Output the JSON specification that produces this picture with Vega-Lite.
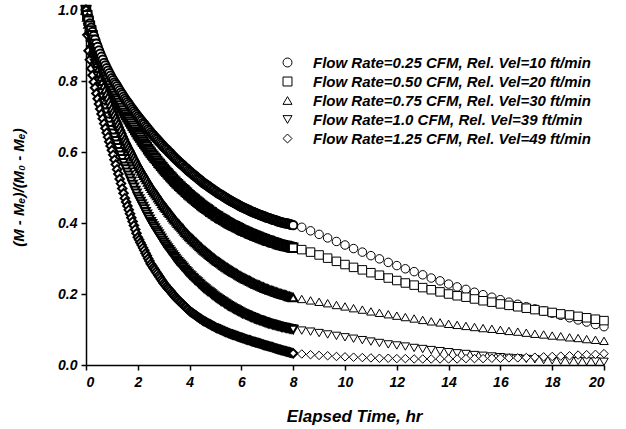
{
"$schema": "https://vega.github.io/schema/vega-lite/v6.json",
"width": 518, "height": 355,
"autosize": "none",
"padding": {"left": 86, "top": 10, "right": 22, "bottom": 64},
"background": "white",
"config": {"view": {"stroke": null}, "font": "Liberation Sans"},
"data": {"values": [
{"t":0,"a":1,"b":1,"c":1,"d":1,"e":1},
{"t":0.05,"a":0.988,"b":0.985,"c":0.980,"d":0.975,"e":0.930},
{"t":0.10,"a":0.975,"b":0.970,"c":0.960,"d":0.950,"e":0.885},
{"t":0.15,"a":0.962,"b":0.956,"c":0.943,"d":0.929,"e":0.860},
{"t":0.20,"a":0.950,"b":0.942,"c":0.925,"d":0.907,"e":0.835},
{"t":0.25,"a":0.938,"b":0.929,"c":0.909,"d":0.888,"e":0.816},
{"t":0.30,"a":0.927,"b":0.916,"c":0.893,"d":0.868,"e":0.797},
{"t":0.35,"a":0.916,"b":0.904,"c":0.878,"d":0.850,"e":0.781},
{"t":0.40,"a":0.905,"b":0.892,"c":0.863,"d":0.832,"e":0.765},
{"t":0.45,"a":0.896,"b":0.881,"c":0.850,"d":0.816,"e":0.750},
{"t":0.50,"a":0.886,"b":0.870,"c":0.836,"d":0.799,"e":0.735},
{"t":0.55,"a":0.877,"b":0.860,"c":0.824,"d":0.784,"e":0.721},
{"t":0.60,"a":0.868,"b":0.849,"c":0.811,"d":0.768,"e":0.707},
{"t":0.65,"a":0.860,"b":0.840,"c":0.799,"d":0.754,"e":0.694},
{"t":0.70,"a":0.851,"b":0.830,"c":0.787,"d":0.739,"e":0.680},
{"t":0.75,"a":0.844,"b":0.821,"c":0.776,"d":0.726,"e":0.667},
{"t":0.80,"a":0.836,"b":0.812,"c":0.765,"d":0.712,"e":0.654},
{"t":0.85,"a":0.829,"b":0.804,"c":0.755,"d":0.700,"e":0.642},
{"t":0.90,"a":0.822,"b":0.795,"c":0.744,"d":0.687,"e":0.629},
{"t":0.95,"a":0.815,"b":0.787,"c":0.734,"d":0.675,"e":0.617},
{"t":1.00,"a":0.808,"b":0.779,"c":0.724,"d":0.663,"e":0.605},
{"t":1.05,"a":0.802,"b":0.772,"c":0.715,"d":0.653,"e":0.592},
{"t":1.10,"a":0.796,"b":0.765,"c":0.707,"d":0.642,"e":0.578},
{"t":1.15,"a":0.791,"b":0.758,"c":0.698,"d":0.632,"e":0.565},
{"t":1.20,"a":0.785,"b":0.751,"c":0.690,"d":0.622,"e":0.551},
{"t":1.25,"a":0.779,"b":0.745,"c":0.681,"d":0.612,"e":0.538},
{"t":1.30,"a":0.773,"b":0.738,"c":0.672,"d":0.601,"e":0.524},
{"t":1.35,"a":0.767,"b":0.731,"c":0.664,"d":0.591,"e":0.511},
{"t":1.40,"a":0.762,"b":0.724,"c":0.655,"d":0.581,"e":0.497},
{"t":1.45,"a":0.756,"b":0.717,"c":0.647,"d":0.570,"e":0.484},
{"t":1.50,"a":0.750,"b":0.710,"c":0.638,"d":0.560,"e":0.470},
{"t":1.55,"a":0.745,"b":0.704,"c":0.631,"d":0.552,"e":0.459},
{"t":1.60,"a":0.740,"b":0.698,"c":0.623,"d":0.543,"e":0.448},
{"t":1.65,"a":0.735,"b":0.692,"c":0.616,"d":0.535,"e":0.437},
{"t":1.70,"a":0.730,"b":0.686,"c":0.609,"d":0.526,"e":0.426},
{"t":1.75,"a":0.725,"b":0.680,"c":0.602,"d":0.518,"e":0.415},
{"t":1.80,"a":0.720,"b":0.674,"c":0.594,"d":0.509,"e":0.404},
{"t":1.85,"a":0.715,"b":0.668,"c":0.587,"d":0.501,"e":0.393},
{"t":1.90,"a":0.710,"b":0.662,"c":0.580,"d":0.492,"e":0.382},
{"t":1.95,"a":0.705,"b":0.656,"c":0.572,"d":0.484,"e":0.371},
{"t":2.00,"a":0.700,"b":0.650,"c":0.565,"d":0.475,"e":0.360},
{"t":2.05,"a":0.696,"b":0.645,"c":0.559,"d":0.468,"e":0.353},
{"t":2.10,"a":0.691,"b":0.640,"c":0.553,"d":0.461,"e":0.345},
{"t":2.15,"a":0.687,"b":0.634,"c":0.546,"d":0.454,"e":0.338},
{"t":2.20,"a":0.682,"b":0.629,"c":0.540,"d":0.447,"e":0.330},
{"t":2.25,"a":0.678,"b":0.624,"c":0.534,"d":0.440,"e":0.323},
{"t":2.30,"a":0.673,"b":0.619,"c":0.528,"d":0.432,"e":0.315},
{"t":2.35,"a":0.669,"b":0.614,"c":0.522,"d":0.425,"e":0.308},
{"t":2.40,"a":0.664,"b":0.608,"c":0.515,"d":0.418,"e":0.300},
{"t":2.45,"a":0.660,"b":0.603,"c":0.509,"d":0.411,"e":0.293},
{"t":2.50,"a":0.655,"b":0.598,"c":0.503,"d":0.404,"e":0.285},
{"t":2.55,"a":0.651,"b":0.593,"c":0.498,"d":0.398,"e":0.280},
{"t":2.60,"a":0.647,"b":0.589,"c":0.492,"d":0.392,"e":0.274},
{"t":2.65,"a":0.643,"b":0.584,"c":0.487,"d":0.386,"e":0.269},
{"t":2.70,"a":0.639,"b":0.580,"c":0.482,"d":0.380,"e":0.263},
{"t":2.75,"a":0.635,"b":0.575,"c":0.477,"d":0.375,"e":0.258},
{"t":2.80,"a":0.631,"b":0.570,"c":0.471,"d":0.369,"e":0.252},
{"t":2.85,"a":0.627,"b":0.566,"c":0.466,"d":0.363,"e":0.247},
{"t":2.90,"a":0.623,"b":0.561,"c":0.461,"d":0.357,"e":0.241},
{"t":2.95,"a":0.619,"b":0.557,"c":0.455,"d":0.351,"e":0.236},
{"t":3.00,"a":0.615,"b":0.552,"c":0.450,"d":0.345,"e":0.230},
{"t":3.05,"a":0.611,"b":0.548,"c":0.445,"d":0.340,"e":0.226},
{"t":3.10,"a":0.608,"b":0.544,"c":0.441,"d":0.335,"e":0.221},
{"t":3.15,"a":0.604,"b":0.540,"c":0.436,"d":0.330,"e":0.217},
{"t":3.20,"a":0.600,"b":0.536,"c":0.431,"d":0.325,"e":0.213},
{"t":3.25,"a":0.597,"b":0.532,"c":0.427,"d":0.320,"e":0.209},
{"t":3.30,"a":0.593,"b":0.528,"c":0.422,"d":0.315,"e":0.204},
{"t":3.35,"a":0.589,"b":0.524,"c":0.417,"d":0.310,"e":0.200},
{"t":3.40,"a":0.585,"b":0.520,"c":0.412,"d":0.305,"e":0.196},
{"t":3.45,"a":0.582,"b":0.516,"c":0.408,"d":0.300,"e":0.191},
{"t":3.50,"a":0.578,"b":0.512,"c":0.403,"d":0.295,"e":0.187},
{"t":3.55,"a":0.575,"b":0.509,"c":0.399,"d":0.291,"e":0.184},
{"t":3.60,"a":0.571,"b":0.505,"c":0.395,"d":0.287,"e":0.180},
{"t":3.65,"a":0.568,"b":0.502,"c":0.391,"d":0.283,"e":0.177},
{"t":3.70,"a":0.565,"b":0.498,"c":0.387,"d":0.279,"e":0.173},
{"t":3.75,"a":0.562,"b":0.495,"c":0.383,"d":0.275,"e":0.170},
{"t":3.80,"a":0.558,"b":0.492,"c":0.378,"d":0.270,"e":0.166},
{"t":3.85,"a":0.555,"b":0.488,"c":0.374,"d":0.266,"e":0.163},
{"t":3.90,"a":0.552,"b":0.485,"c":0.370,"d":0.262,"e":0.159},
{"t":3.95,"a":0.548,"b":0.481,"c":0.366,"d":0.258,"e":0.156},
{"t":4.00,"a":0.545,"b":0.478,"c":0.362,"d":0.254,"e":0.152},
{"t":4.05,"a":0.542,"b":0.475,"c":0.359,"d":0.251,"e":0.149},
{"t":4.10,"a":0.539,"b":0.472,"c":0.355,"d":0.247,"e":0.147},
{"t":4.15,"a":0.536,"b":0.469,"c":0.352,"d":0.244,"e":0.144},
{"t":4.20,"a":0.533,"b":0.466,"c":0.348,"d":0.240,"e":0.142},
{"t":4.25,"a":0.530,"b":0.463,"c":0.345,"d":0.237,"e":0.139},
{"t":4.30,"a":0.527,"b":0.460,"c":0.341,"d":0.234,"e":0.136},
{"t":4.35,"a":0.524,"b":0.457,"c":0.338,"d":0.230,"e":0.134},
{"t":4.40,"a":0.521,"b":0.454,"c":0.334,"d":0.227,"e":0.131},
{"t":4.45,"a":0.518,"b":0.451,"c":0.331,"d":0.223,"e":0.129},
{"t":4.50,"a":0.515,"b":0.448,"c":0.327,"d":0.220,"e":0.126},
{"t":4.55,"a":0.512,"b":0.445,"c":0.324,"d":0.217,"e":0.124},
{"t":4.60,"a":0.510,"b":0.443,"c":0.321,"d":0.214,"e":0.122},
{"t":4.65,"a":0.507,"b":0.440,"c":0.318,"d":0.211,"e":0.120},
{"t":4.70,"a":0.505,"b":0.438,"c":0.315,"d":0.208,"e":0.118},
{"t":4.75,"a":0.502,"b":0.435,"c":0.312,"d":0.206,"e":0.116},
{"t":4.80,"a":0.499,"b":0.432,"c":0.309,"d":0.203,"e":0.114},
{"t":4.85,"a":0.497,"b":0.430,"c":0.306,"d":0.200,"e":0.112},
{"t":4.90,"a":0.494,"b":0.427,"c":0.303,"d":0.197,"e":0.110},
{"t":4.95,"a":0.492,"b":0.425,"c":0.300,"d":0.194,"e":0.108},
{"t":5.00,"a":0.489,"b":0.422,"c":0.297,"d":0.191,"e":0.106},
{"t":5.05,"a":0.487,"b":0.420,"c":0.294,"d":0.189,"e":0.104},
{"t":5.10,"a":0.484,"b":0.418,"c":0.292,"d":0.186,"e":0.103},
{"t":5.15,"a":0.482,"b":0.415,"c":0.289,"d":0.184,"e":0.101},
{"t":5.20,"a":0.480,"b":0.413,"c":0.287,"d":0.181,"e":0.100},
{"t":5.25,"a":0.478,"b":0.411,"c":0.284,"d":0.179,"e":0.098},
{"t":5.30,"a":0.475,"b":0.409,"c":0.281,"d":0.177,"e":0.096},
{"t":5.35,"a":0.473,"b":0.407,"c":0.279,"d":0.174,"e":0.095},
{"t":5.40,"a":0.471,"b":0.404,"c":0.276,"d":0.172,"e":0.093},
{"t":5.45,"a":0.468,"b":0.402,"c":0.274,"d":0.169,"e":0.092},
{"t":5.50,"a":0.466,"b":0.400,"c":0.271,"d":0.167,"e":0.090},
{"t":5.55,"a":0.464,"b":0.398,"c":0.269,"d":0.165,"e":0.089},
{"t":5.60,"a":0.462,"b":0.396,"c":0.267,"d":0.163,"e":0.087},
{"t":5.65,"a":0.460,"b":0.394,"c":0.264,"d":0.161,"e":0.086},
{"t":5.70,"a":0.458,"b":0.392,"c":0.262,"d":0.159,"e":0.085},
{"t":5.75,"a":0.456,"b":0.391,"c":0.260,"d":0.157,"e":0.084},
{"t":5.80,"a":0.454,"b":0.389,"c":0.258,"d":0.155,"e":0.082},
{"t":5.85,"a":0.452,"b":0.387,"c":0.256,"d":0.153,"e":0.081},
{"t":5.90,"a":0.450,"b":0.385,"c":0.253,"d":0.151,"e":0.080},
{"t":5.95,"a":0.448,"b":0.383,"c":0.251,"d":0.149,"e":0.078},
{"t":6.00,"a":0.446,"b":0.381,"c":0.249,"d":0.147,"e":0.077},
{"t":6.05,"a":0.444,"b":0.379,"c":0.247,"d":0.145,"e":0.076},
{"t":6.10,"a":0.443,"b":0.378,"c":0.245,"d":0.144,"e":0.075},
{"t":6.15,"a":0.441,"b":0.376,"c":0.243,"d":0.142,"e":0.073},
{"t":6.20,"a":0.439,"b":0.375,"c":0.241,"d":0.141,"e":0.072},
{"t":6.25,"a":0.438,"b":0.373,"c":0.240,"d":0.139,"e":0.071},
{"t":6.30,"a":0.436,"b":0.371,"c":0.238,"d":0.137,"e":0.070},
{"t":6.35,"a":0.434,"b":0.370,"c":0.236,"d":0.136,"e":0.069},
{"t":6.40,"a":0.432,"b":0.368,"c":0.234,"d":0.134,"e":0.067},
{"t":6.45,"a":0.431,"b":0.367,"c":0.232,"d":0.133,"e":0.066},
{"t":6.50,"a":0.429,"b":0.365,"c":0.230,"d":0.131,"e":0.065},
{"t":6.55,"a":0.428,"b":0.364,"c":0.228,"d":0.130,"e":0.064},
{"t":6.60,"a":0.426,"b":0.362,"c":0.227,"d":0.128,"e":0.063},
{"t":6.65,"a":0.425,"b":0.361,"c":0.225,"d":0.127,"e":0.062},
{"t":6.70,"a":0.423,"b":0.359,"c":0.224,"d":0.126,"e":0.061},
{"t":6.75,"a":0.422,"b":0.358,"c":0.222,"d":0.125,"e":0.060},
{"t":6.80,"a":0.421,"b":0.357,"c":0.220,"d":0.123,"e":0.058},
{"t":6.85,"a":0.419,"b":0.355,"c":0.219,"d":0.122,"e":0.057},
{"t":6.90,"a":0.418,"b":0.354,"c":0.217,"d":0.121,"e":0.056},
{"t":6.95,"a":0.416,"b":0.352,"c":0.216,"d":0.119,"e":0.055},
{"t":7.00,"a":0.415,"b":0.351,"c":0.214,"d":0.118,"e":0.054},
{"t":7.05,"a":0.414,"b":0.350,"c":0.213,"d":0.117,"e":0.053},
{"t":7.10,"a":0.413,"b":0.349,"c":0.211,"d":0.116,"e":0.052},
{"t":7.15,"a":0.411,"b":0.347,"c":0.210,"d":0.115,"e":0.051},
{"t":7.20,"a":0.410,"b":0.346,"c":0.209,"d":0.114,"e":0.050},
{"t":7.25,"a":0.409,"b":0.345,"c":0.208,"d":0.113,"e":0.049},
{"t":7.30,"a":0.408,"b":0.344,"c":0.206,"d":0.112,"e":0.047},
{"t":7.35,"a":0.407,"b":0.343,"c":0.205,"d":0.111,"e":0.046},
{"t":7.40,"a":0.405,"b":0.341,"c":0.204,"d":0.110,"e":0.045},
{"t":7.45,"a":0.404,"b":0.340,"c":0.202,"d":0.109,"e":0.044},
{"t":7.50,"a":0.403,"b":0.339,"c":0.201,"d":0.108,"e":0.043},
{"t":7.55,"a":0.402,"b":0.338,"c":0.200,"d":0.107,"e":0.042},
{"t":7.60,"a":0.401,"b":0.337,"c":0.199,"d":0.106,"e":0.041},
{"t":7.65,"a":0.400,"b":0.336,"c":0.198,"d":0.106,"e":0.040},
{"t":7.70,"a":0.399,"b":0.335,"c":0.197,"d":0.105,"e":0.039},
{"t":7.75,"a":0.399,"b":0.335,"c":0.196,"d":0.104,"e":0.038},
{"t":7.80,"a":0.398,"b":0.334,"c":0.194,"d":0.103,"e":0.037},
{"t":7.85,"a":0.397,"b":0.333,"c":0.193,"d":0.102,"e":0.036},
{"t":7.90,"a":0.396,"b":0.332,"c":0.192,"d":0.102,"e":0.035},
{"t":7.95,"a":0.395,"b":0.331,"c":0.191,"d":0.101,"e":0.034},
{"t":8.00,"a":0.394,"b":0.330,"c":0.190,"d":0.100,"e":0.033},
{"t":8.33,"a":0.388,"b":0.325,"c":0.186,"d":0.097,"e":0.031},
{"t":8.67,"a":0.378,"b":0.318,"c":0.182,"d":0.094,"e":0.029},
{"t":9.00,"a":0.368,"b":0.310,"c":0.178,"d":0.090,"e":0.027},
{"t":9.33,"a":0.358,"b":0.301,"c":0.174,"d":0.086,"e":0.026},
{"t":9.67,"a":0.348,"b":0.292,"c":0.169,"d":0.082,"e":0.024},
{"t":10.00,"a":0.338,"b":0.283,"c":0.165,"d":0.078,"e":0.023},
{"t":10.33,"a":0.328,"b":0.275,"c":0.160,"d":0.074,"e":0.022},
{"t":10.67,"a":0.318,"b":0.268,"c":0.156,"d":0.070,"e":0.021},
{"t":11.00,"a":0.308,"b":0.260,"c":0.151,"d":0.066,"e":0.020},
{"t":11.33,"a":0.299,"b":0.253,"c":0.147,"d":0.062,"e":0.019},
{"t":11.67,"a":0.289,"b":0.245,"c":0.143,"d":0.058,"e":0.019},
{"t":12.00,"a":0.280,"b":0.238,"c":0.139,"d":0.055,"e":0.018},
{"t":12.33,"a":0.271,"b":0.231,"c":0.135,"d":0.052,"e":0.018},
{"t":12.67,"a":0.263,"b":0.225,"c":0.131,"d":0.048,"e":0.017},
{"t":13.00,"a":0.254,"b":0.218,"c":0.127,"d":0.045,"e":0.017},
{"t":13.33,"a":0.245,"b":0.212,"c":0.123,"d":0.042,"e":0.017},
{"t":13.67,"a":0.237,"b":0.206,"c":0.120,"d":0.039,"e":0.017},
{"t":14.00,"a":0.228,"b":0.200,"c":0.116,"d":0.036,"e":0.017},
{"t":14.33,"a":0.220,"b":0.195,"c":0.113,"d":0.033,"e":0.017},
{"t":14.67,"a":0.213,"b":0.191,"c":0.110,"d":0.031,"e":0.018},
{"t":15.00,"a":0.205,"b":0.186,"c":0.107,"d":0.028,"e":0.018},
{"t":15.33,"a":0.198,"b":0.181,"c":0.104,"d":0.026,"e":0.018},
{"t":15.67,"a":0.191,"b":0.177,"c":0.102,"d":0.024,"e":0.019},
{"t":16.00,"a":0.184,"b":0.172,"c":0.099,"d":0.022,"e":0.019},
{"t":16.33,"a":0.177,"b":0.168,"c":0.096,"d":0.020,"e":0.020},
{"t":16.67,"a":0.171,"b":0.164,"c":0.094,"d":0.019,"e":0.020},
{"t":17.00,"a":0.164,"b":0.160,"c":0.091,"d":0.017,"e":0.021},
{"t":17.33,"a":0.158,"b":0.156,"c":0.088,"d":0.016,"e":0.022},
{"t":17.67,"a":0.152,"b":0.152,"c":0.086,"d":0.014,"e":0.023},
{"t":18.00,"a":0.146,"b":0.148,"c":0.083,"d":0.013,"e":0.024},
{"t":18.33,"a":0.140,"b":0.144,"c":0.081,"d":0.012,"e":0.025},
{"t":18.67,"a":0.133,"b":0.141,"c":0.078,"d":0.012,"e":0.026},
{"t":19.00,"a":0.127,"b":0.137,"c":0.076,"d":0.011,"e":0.028},
{"t":19.33,"a":0.121,"b":0.133,"c":0.073,"d":0.010,"e":0.029},
{"t":19.67,"a":0.114,"b":0.129,"c":0.071,"d":0.010,"e":0.030},
{"t":20.00,"a":0.108,"b":0.125,"c":0.068,"d":0.009,"e":0.032}
]},
"transform": [{"fold": ["a","b","c","d","e"], "as": ["series","v"]}],
"mark": {"type": "point", "filled": false, "fill": "white", "opacity": 1, "size": 72},
"encoding": {
  "x": {"field": "t", "type": "quantitative",
        "scale": {"domain": [0, 20], "nice": false, "zero": false},
        "axis": {"values": [0,2,4,6,8,10,12,14,16,18,20], "format": "d", "title": "Elapsed Time, hr",
                 "grid": false, "domainColor": "black", "domainWidth": 1.5, "tickColor": "black", "tickWidth": 1.5, "tickSize": 5,
                 "labelFont": "Liberation Sans", "labelFontSize": 14, "labelFontWeight": "bold", "labelFontStyle": "italic", "labelColor": "black", "labelPadding": 5,
                 "titleFont": "Liberation Sans", "titleFontSize": 17, "titleFontWeight": "bold", "titleFontStyle": "italic", "titleColor": "black",
                 "titleX": 268, "titleY": 56, "titleBaseline": "alphabetic", "titleAlign": "center"}},
  "y": {"field": "v", "type": "quantitative",
        "scale": {"domain": [0, 1], "nice": false},
        "axis": {"values": [0,0.2,0.4,0.6,0.8,1.0], "format": ".1f", "title": "(M - Mₑ)/(M₀ - Mₑ)",
                 "grid": false, "domainColor": "black", "domainWidth": 1.5, "tickColor": "black", "tickWidth": 1.5, "tickSize": 5,
                 "labelFont": "Liberation Sans", "labelFontSize": 14, "labelFontWeight": "bold", "labelFontStyle": "italic", "labelColor": "black", "labelPadding": 4,
                 "titleFont": "Liberation Sans", "titleFontSize": 15, "titleFontWeight": "bold", "titleFontStyle": "italic", "titleColor": "black",
                 "titleX": -68, "titleY": 177, "titleAngle": -90, "titleAlign": "center", "titleBaseline": "middle"}},
  "strokeWidth": {"condition": {"test": "datum.t <= 8", "value": 2}, "value": 1},
  "color": {"field": "series", "type": "nominal",
            "scale": {"domain": ["a","b","c","d","e"], "range": ["black","black","black","black","black"]},
            "legend": {"title": null, "orient": "none", "legendX": 194, "legendY": 45,
                       "symbolSize": 80, "symbolStrokeWidth": 1,
                       "labelFont": "Liberation Sans", "labelFontSize": 15, "labelFontWeight": "bold", "labelFontStyle": "italic", "labelColor": "black",
                       "labelOffset": 18, "rowPadding": 3, "labelLimit": 400,
                       "labelExpr": "datum.value == 'a' ? 'Flow Rate=0.25 CFM, Rel. Vel=10 ft/min' : datum.value == 'b' ? 'Flow Rate=0.50 CFM, Rel. Vel=20 ft/min' : datum.value == 'c' ? 'Flow Rate=0.75 CFM, Rel. Vel=30 ft/min' : datum.value == 'd' ? 'Flow Rate=1.0 CFM, Rel. Vel=39 ft/min' : 'Flow Rate=1.25 CFM, Rel. Vel=49 ft/min'"}},
  "shape": {"field": "series", "type": "nominal",
            "scale": {"domain": ["a","b","c","d","e"], "range": ["circle","square","triangle-up","triangle-down","diamond"]},
            "legend": {"title": null, "orient": "none", "legendX": 194, "legendY": 45,
                       "symbolSize": 80, "symbolStrokeWidth": 1,
                       "labelFont": "Liberation Sans", "labelFontSize": 15, "labelFontWeight": "bold", "labelFontStyle": "italic", "labelColor": "black",
                       "labelOffset": 18, "rowPadding": 3, "labelLimit": 400,
                       "labelExpr": "datum.value == 'a' ? 'Flow Rate=0.25 CFM, Rel. Vel=10 ft/min' : datum.value == 'b' ? 'Flow Rate=0.50 CFM, Rel. Vel=20 ft/min' : datum.value == 'c' ? 'Flow Rate=0.75 CFM, Rel. Vel=30 ft/min' : datum.value == 'd' ? 'Flow Rate=1.0 CFM, Rel. Vel=39 ft/min' : 'Flow Rate=1.25 CFM, Rel. Vel=49 ft/min'"}}
}
}
